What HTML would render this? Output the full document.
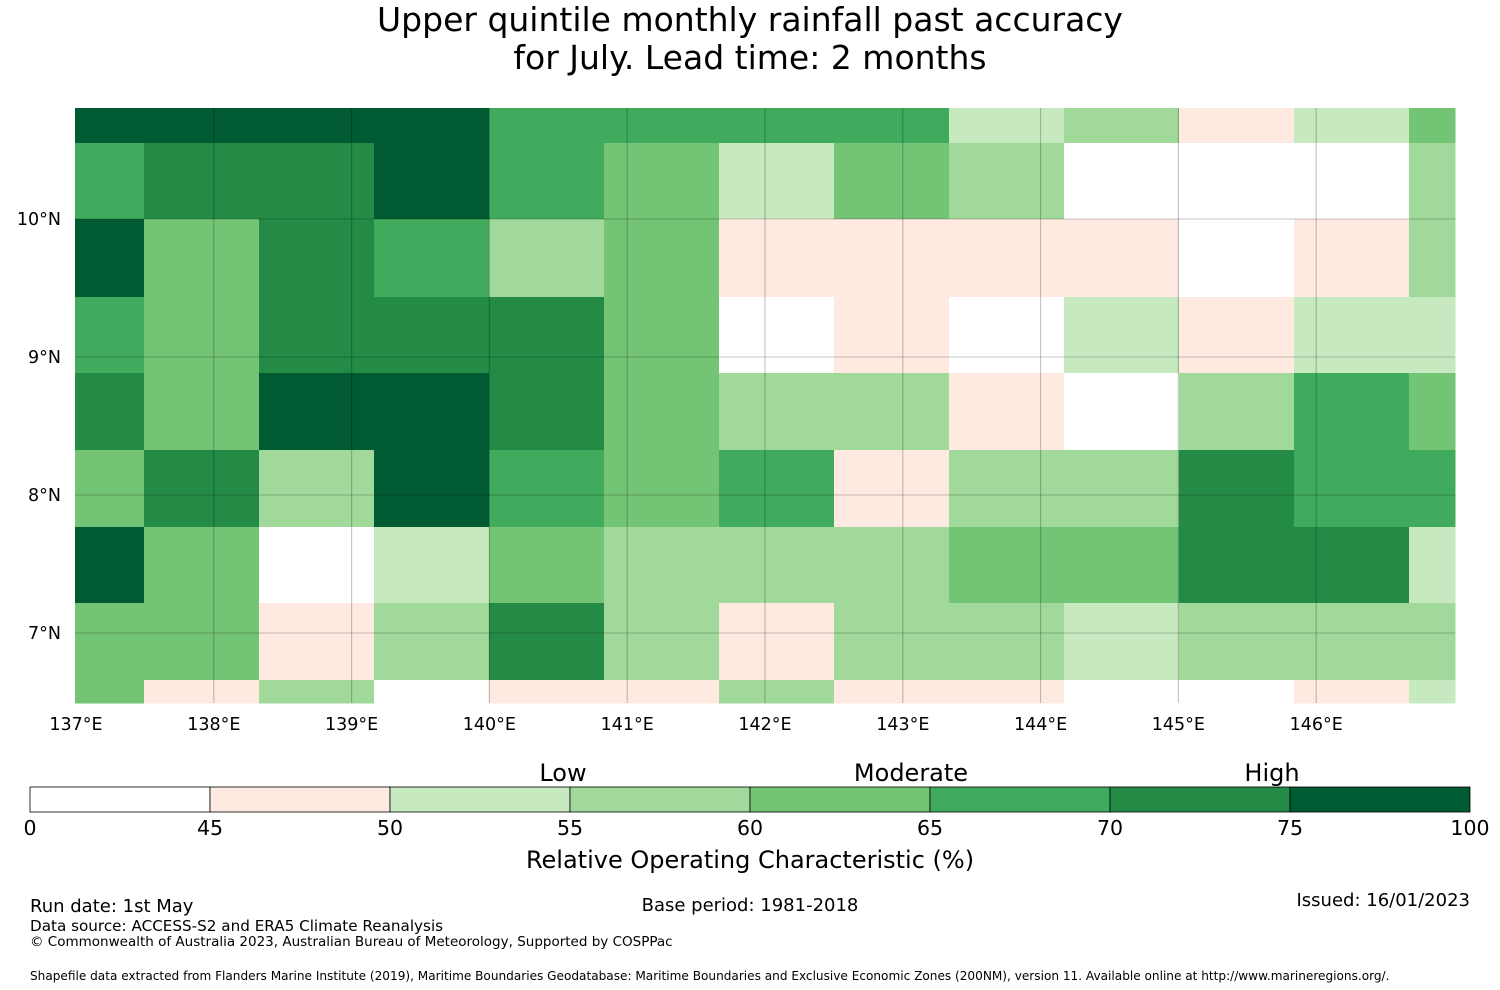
<!DOCTYPE html>
<html><head><meta charset="utf-8"><style>
body{margin:0;background:#fff;}
svg{display:block;font-family:"DejaVu Sans","Liberation Sans",sans-serif;}
</style></head><body>
<svg id="chart" width="1500" height="990" viewBox="0 0 1500 990">
<text x="750" y="31" font-size="33" text-anchor="middle">Upper quintile monthly rainfall past accuracy</text>
<text x="750" y="69" font-size="33" text-anchor="middle">for July. Lead time: 2 months</text>
<g id="map"></g>
<g id="grid"></g>
<g id="axes"></g>
<g id="cbar"></g>
<text x="750" y="868" font-size="24" text-anchor="middle">Relative Operating Characteristic (%)</text>
<text x="563" y="781" font-size="24" text-anchor="middle">Low</text>
<text x="911" y="781" font-size="24" text-anchor="middle">Moderate</text>
<text x="1272" y="781" font-size="24" text-anchor="middle">High</text>
<text x="30" y="912" font-size="18">Run date: 1st May</text>
<text x="750" y="911" font-size="18" text-anchor="middle">Base period: 1981-2018</text>
<text x="1470" y="906" font-size="18" text-anchor="end">Issued: 16/01/2023</text>
<text x="30" y="931" font-size="15.2">Data source: ACCESS-S2 and ERA5 Climate Reanalysis</text>
<text x="30" y="946" font-size="13.5">© Commonwealth of Australia 2023, Australian Bureau of Meteorology, Supported by COSPPac</text>
<text x="30" y="980" font-size="12.1">Shapefile data extracted from Flanders Marine Institute (2019), Maritime Boundaries Geodatabase: Maritime Boundaries and Exclusive Economic Zones (200NM), version 11. Available online at http://www.marineregions.org/.</text>
</svg>
<script>
const colBounds = [75,144,259,374,489,604,719,834,949,1064,1179,1294,1409,1455];
const rowBounds = [108,143,219,297,373,450,527,603,680,703];
const classEdges = [0,45,50,55,60,65,70,75,100];
const classColors = ["#ffffff","#feeae1","#c7e9c0","#a1d99b","#74c476","#41ab5d","#238b45","#005a32"];
const row0 = [80,80,80,80,67,67,67,67,52,57,47,52,62];
const row1 = [67,72,72,80,67,62,52,62,57,40,40,40,57];
const row2 = [80,62,72,67,57,62,47,47,47,47,40,47,57];
const row3 = [67,62,72,72,72,62,40,47,40,52,47,52,52];
const row4 = [72,62,80,80,72,62,57,57,47,40,57,67,62];
const row5 = [62,72,57,80,67,62,67,47,57,57,72,67,67];
const row6 = [80,62,40,52,62,57,57,57,62,62,72,72,52];
const row7 = [62,62,47,57,72,57,47,57,57,52,57,57,57];
const row8 = [62,47,57,40,47,47,57,47,47,40,40,47,52];
const rows = [row0,row1,row2,row3,row4,row5,row6,row7,row8];
const lonTicks = [137,138,139,140,141,142,143,144,145,146];
const latTicks = [10,9,8,7];
const NS="http://www.w3.org/2000/svg";
function xLon(l){return 76+(l-137)*137.8;}
function yLat(l){return 219+(10-l)*138;}
function colorFor(v){for(let i=0;i<8;i++){if(v<classEdges[i+1]||i==7)return classColors[i];}}
function mk(t,a){const e=document.createElementNS(NS,t);for(const k in a)e.setAttribute(k,a[k]);return e;}
const map=document.getElementById('map');
rows.forEach((r,ri)=>r.forEach((v,ci)=>{
 const x0=colBounds[ci],x1=colBounds[ci+1],y0=rowBounds[ri],y1=rowBounds[ri+1];
 const e=mk('rect',{x:x0,y:y0,width:x1-x0+0.5,height:y1-y0+0.5,fill:colorFor(v)});
 
 
 map.appendChild(e);
}));
const grid=document.getElementById('grid'), axes=document.getElementById('axes');
lonTicks.forEach(l=>{
 const x=xLon(l);
 if(l>137){const ln=mk('line',{x1:x,x2:x,y1:108,y2:703,stroke:'rgba(0,0,0,0.22)','stroke-width':1.2});
 
 
 grid.appendChild(ln);}
 const t=mk('text',{x:x,y:730,'font-size':17.5,'text-anchor':'middle'});t.textContent=l+'°E';
 
 
 axes.appendChild(t);
});
latTicks.forEach(l=>{
 const y=yLat(l);
 const ln=mk('line',{x1:75,x2:1455,y1:y,y2:y,stroke:'rgba(0,0,0,0.22)','stroke-width':1});
 
 
 grid.appendChild(ln);
 const t=mk('text',{x:61,y:y+6,'font-size':17.5,'text-anchor':'end'});t.textContent=l+'°N';
 
 
 axes.appendChild(t);
});
const cbar=document.getElementById('cbar');
classColors.forEach((c,i)=>{
 const r=mk('rect',{x:30+i*180,y:787,width:180,height:25,fill:c,stroke:'#000','stroke-width':0.8});
 
 
 cbar.appendChild(r);
});
classEdges.forEach((v,i)=>{
 const t=mk('text',{x:30+i*180,y:835,'font-size':20.5,'text-anchor':'middle'});t.textContent=v;
 
 
 cbar.appendChild(t);
});
</script>
</body></html>
